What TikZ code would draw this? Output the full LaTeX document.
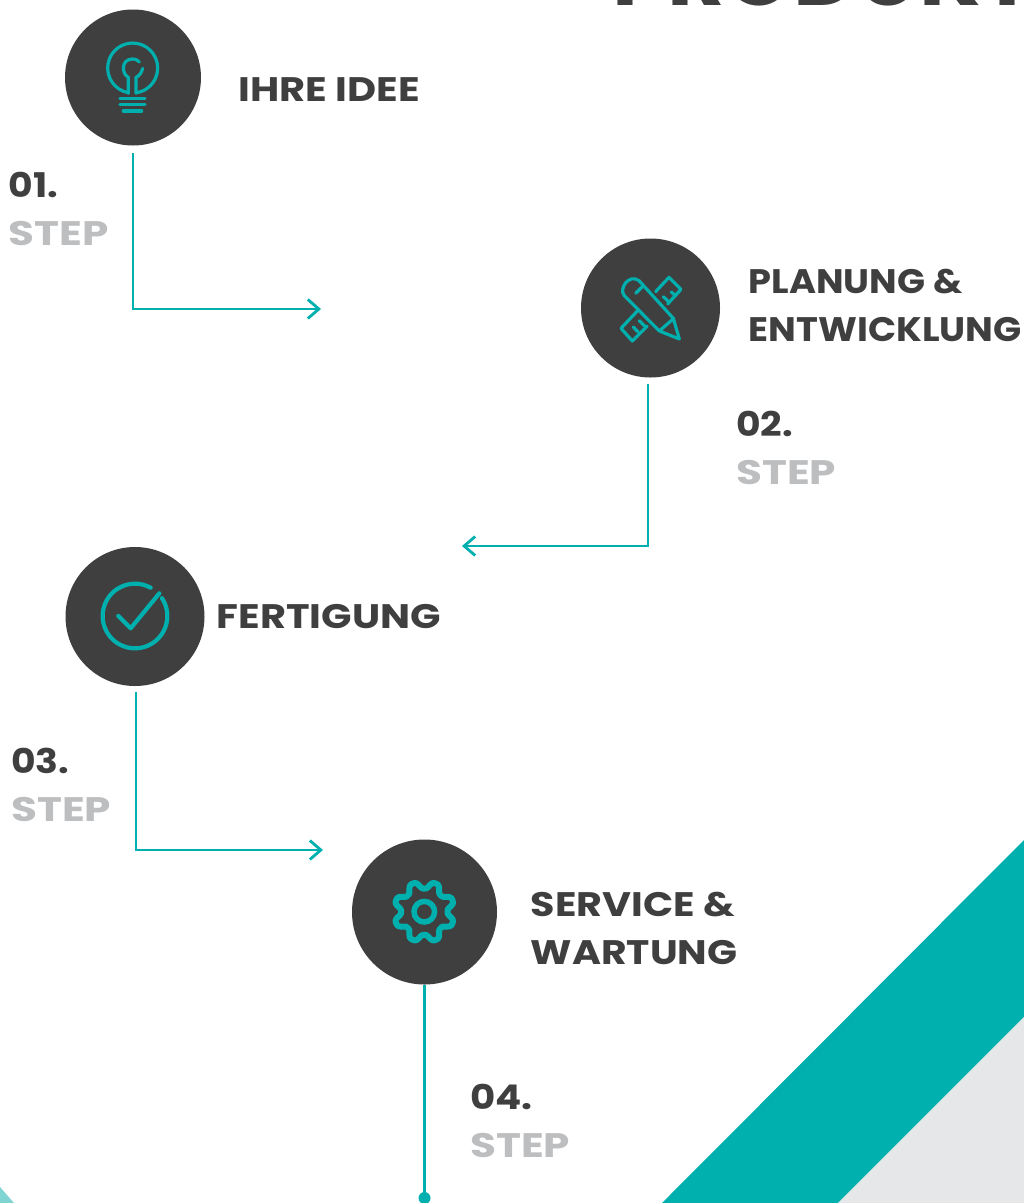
\documentclass[tikz,border=0pt]{standalone}
\usepackage{fontspec}
\setmainfont{Poppins}
\usetikzlibrary{arrows.meta}
\definecolor{dark}{HTML}{3F3F3F}
\definecolor{teal}{HTML}{00B0AF}
\definecolor{grayt}{HTML}{BCBEC0}
\definecolor{lgray}{HTML}{E6E7E8}
\definecolor{lteal}{HTML}{80D5D3}
\tikzset{
  x=1pt,y=-1pt,
  disc/.style={circle,fill=dark,inner sep=0pt,minimum size=#1},
  lab/.style={anchor=base west,inner sep=0pt,text=dark,font=\fontsize{34}{34}\selectfont\bfseries,transform shape,xscale=#1},
  stepg/.style={lab=1.24,text=grayt},
  link/.style={draw=teal,line width=2.8pt,-{Straight Barb[length=11pt,width=19pt,line width=2.8pt]}},
  icon/.style={draw=teal,line width=3.2pt,line cap=round,line join=round},
}
\begin{document}
\begin{tikzpicture}
\useasboundingbox (0,0) rectangle (1024,1203);
\fill[white] (0,0) rectangle (1024,1203);
\begin{scope}
\clip (0,0) rectangle (1024,1203);
\fill[teal] (1024,840) -- (662,1203) -- (838,1203) -- (1024,1017) -- cycle;
\fill[lgray] (1024,1017) -- (838,1203) -- (1024,1203) -- cycle;
\fill[lteal] (0,1187) -- (14,1203) -- (0,1203) -- cycle;
\node[anchor=base west,inner sep=0pt,text=dark,font=\fontsize{88}{88}\selectfont\bfseries] (title) at (612,5) {PRODUKT};
\end{scope}
\node[disc=136pt] (c1) at (133,77.5) {};
\node[disc=139pt] (c2) at (650.5,308) {};
\node[disc=139pt] (c3) at (135,616.5) {};
\node[disc=145pt] (c4) at (424.5,912) {};
% labels
\node[lab=1.176] (t1) at (238.5,101) {IHRE IDEE};
\node[lab=1.08] (t2a) at (748.5,293) {PLANUNG \&};
\node[lab=1.087] (t2b) at (748.5,341) {ENTWICKLUNG};
\node[lab=1.175] (t3) at (216.5,628) {FERTIGUNG};
\node[lab=1.167] (t4a) at (530.5,916) {SERVICE \&};
\node[lab=1.157] (t4b) at (530.5,964) {WARTUNG};
\node[lab=1.11] (n1) at (8.5,197) {01.};
\node[stepg] (s1) at (8.5,245) {STEP};
\node[lab=1.11] (n2) at (736,436) {02.};
\node[stepg] (s2) at (736,484) {STEP};
\node[lab=1.11] (n3) at (11,773) {03.};
\node[stepg] (s3) at (11,821) {STEP};
\node[lab=1.14] (n4) at (470,1109) {04.};
\node[stepg] (s4) at (470,1157) {STEP};
% connectors
\coordinate (e1) at (321,309);
\coordinate (e2) at (462,546);
\coordinate (e3) at (323,850);
\node[circle,fill=teal,inner sep=0pt,minimum size=12pt] (d4) at (424.5,1198) {};
\draw[link,shorten <=7.5pt] (c1.south) |- (e1);
\draw[link,shorten <=6pt] (c2.south -| 648,0) |- (e2);
\draw[link,shorten <=6pt] (c3.south -| 136,0) |- (e3);
\draw[draw=teal,line width=2.8pt] (c4.south) -- (d4);
% bulb
\begin{scope}[shift={(50,0)},x=.3333pt,y=-.3333pt]
\draw[icon] (235,278) arc[start angle=100,end angle=440,radius=75];
\draw[icon] (235,280) -- (235,232) .. controls (215,222) and (212,178) .. (247,177) .. controls (258,177) and (265,182) .. (268,186);
\draw[icon] (258,280) -- (258,232) .. controls (268,228) and (275,218) .. (278,205);
\draw[icon] (210,295) -- (285,295);
\draw[icon] (210,314) -- (285,314);
\draw[icon] (220,333) -- (275,333);
\end{scope}
% pencil and ruler
\begin{scope}[shift={(570,230)},x=.3333pt,y=-.3333pt]
\draw[icon] (268,303) -- (163,197) .. controls (145,175) and (178,130) .. (207,152) -- (310,265) -- (328,327) -- (268,303) -- (308,268);
\draw[icon] (197,190) -- (217,170);
\draw[icon] (257,185) -- (297,142) -- (333,178) -- (293,222);
\draw[icon] (205,240) -- (153,295) -- (187,333) -- (232,288);
\draw[icon] (304,186) -- (316,197);
\draw[icon] (280,200) -- (297,216);
\draw[icon] (208,272) -- (224,288);
\draw[icon] (190,291) -- (205,307);
\end{scope}
% check
\begin{scope}[shift={(60,540)},x=.3333pt,y=-.3333pt]
\draw[draw=teal,line width=4.2pt,line cap=round] (225,228) ++(-33.5:97) arc[start angle=-33.5,end angle=299,radius=97];
\draw[draw=teal,line width=4.2pt,line cap=round,line join=round] (175,228) -- (212,265) -- (298,160);
\end{scope}
% gear
\begin{scope}[shift={(424.3,911.7)}]
\draw[draw=teal,line width=5.5pt] (0,0) circle[radius=10.3];
\draw[draw=teal,line width=6pt,line join=round] plot[smooth cycle,samples=120,domain=0:357,variable=\t] ({(26.8-3.6*cos(8*\t)*(1.5-0.5*cos(8*\t)*cos(8*\t)))*cos(\t)},{(26.8-3.6*cos(8*\t)*(1.5-0.5*cos(8*\t)*cos(8*\t)))*sin(\t)});
\end{scope}
\end{tikzpicture}
\end{document}
